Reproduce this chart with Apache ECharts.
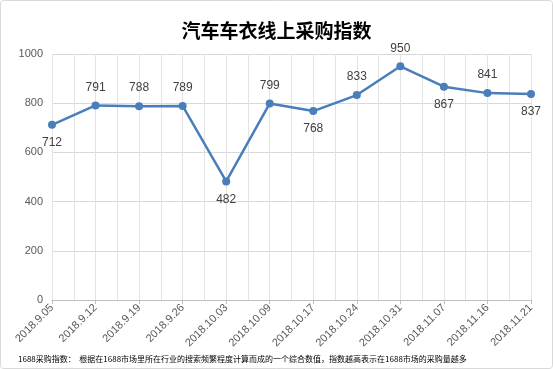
<!DOCTYPE html>
<html><head><meta charset="utf-8">
<script src="https://cdn.jsdelivr.net/npm/echarts@6/dist/echarts.min.js"></script>
<style>html,body{margin:0;padding:0;background:#fff}#c{width:553px;height:369px}</style>
</head><body><div id="c"></div>
<script>
const categories = ['2018.9.05','2018.9.12','2018.9.19','2018.9.26','2018.10.03','2018.10.09','2018.10.17','2018.10.24','2018.10.31','2018.11.07','2018.11.16','2018.11.21'];
const values = [712,791,788,789,482,799,768,833,950,867,841,837];
const labelPos = ['bottom','top','top','top','bottom','top','bottom','top','top','bottom','top','bottom'];
const yTicks = {min:0, max:1000, interval:200};
const titleText = '汽车车衣线上采购指数';
const noteText = '1688采购指数：  根据在1688市场里所在行业的搜索频繁程度计算而成的一个综合数值，指数越高表示在1688市场的采购量越多';

const chart = echarts.init(document.getElementById('c'), null, {renderer:'canvas'});
const font = '"Noto Sans CJK SC", "Microsoft YaHei", sans-serif';
const latin = '"Liberation Sans", Arial, sans-serif';
chart.setOption({
  animation:false,
  backgroundColor:'#fff',
  textStyle:{fontFamily:font},
  title:{text:titleText,left:'center',top:16,textStyle:{fontSize:19,fontWeight:'bold',color:'#000',fontFamily:font}},
  graphic:[
    {type:'rect',shape:{x:0.5,y:0.5,width:552,height:368,r:3},style:{fill:'none',stroke:'#d9d9d9',lineWidth:1},silent:true},
    {type:'text',left:18,top:355,style:{text:noteText,fontSize:8,fill:'#000',fontFamily:font}}
  ],
  grid:{left:52,right:22,top:54,bottom:69},
  xAxis:[
    {type:'category',data:categories,boundaryGap:false,
     axisLine:{lineStyle:{color:'#bfbfbf'}},
     axisTick:{show:true,length:4,lineStyle:{color:'#bfbfbf'}},
     axisLabel:{rotate:45,color:'#595959',fontSize:11,margin:6,fontFamily:latin},
     splitLine:{show:false}},
    {type:'value',min:0,max:categories.length-1,interval:0.5,position:'bottom',
     axisLine:{show:false},axisTick:{show:false},axisLabel:{show:false},
     splitLine:{show:true,lineStyle:{color:'#e3e3e3',width:1}}}
  ],
  yAxis:{type:'value',min:yTicks.min,max:yTicks.max,interval:yTicks.interval,
    axisLine:{show:false},axisTick:{show:false},
    axisLabel:{color:'#595959',fontSize:11,margin:9,fontFamily:latin,formatter:v=>String(v)},
    splitLine:{lineStyle:{color:'#d9d9d9'}}},
  series:[{
    type:'line',xAxisIndex:0,
    data:values.map((v,i)=>({value:v,label:{position:labelPos[i]}})),
    symbol:'circle',symbolSize:8,
    lineStyle:{color:'#4a7ebb',width:2.5},
    itemStyle:{color:'#4a7ebb'},
    label:{show:true,color:'#404040',fontSize:12,distance:8,fontFamily:latin},
    z:5
  }]
});
</script></body></html>
